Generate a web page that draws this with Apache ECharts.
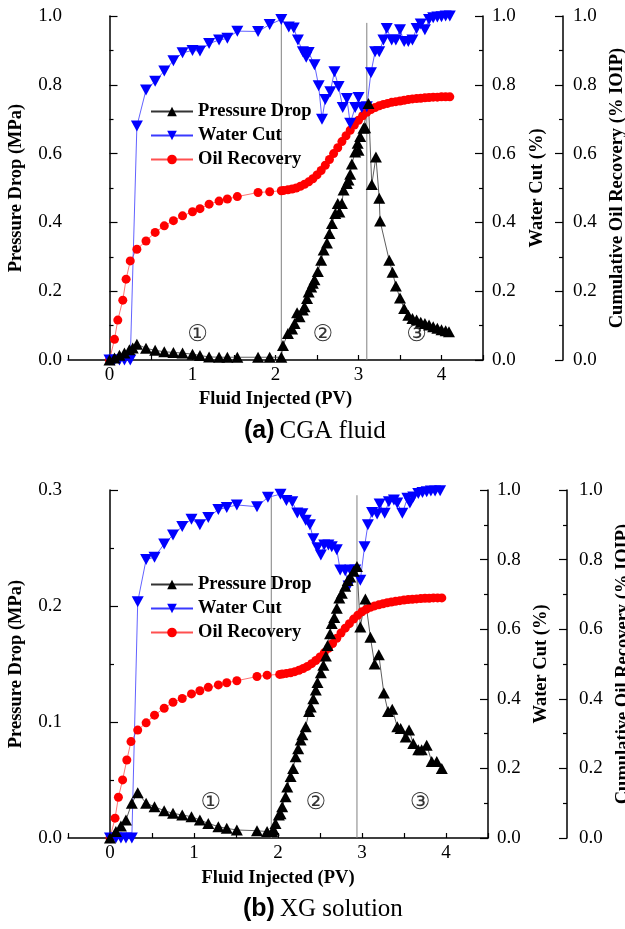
<!DOCTYPE html>
<html>
<head>
<meta charset="utf-8">
<title>Pressure drop, water cut and oil recovery</title>
<script src="https://cdn.jsdelivr.net/npm/echarts@6.0.0/dist/echarts.min.js"></script>
<style>
  html, body { margin: 0; padding: 0; background: #fff; }
  #chart { width: 625px; height: 929px; }
</style>
</head>
<body>
<div id="chart"></div>
<script>
// ---- data: [PV injected, value] ----
// (a) CGA fluid
const pressureA = [[0,0],[0.06,0.006],[0.12,0.014],[0.18,0.02],[0.24,0.03],[0.28,0.035],[0.33,0.046],[0.44,0.034],[0.55,0.028],[0.66,0.024],[0.77,0.022],[0.88,0.02],[1.0,0.017],[1.09,0.013],[1.2,0.009],[1.32,0.008],[1.42,0.008],[1.54,0.008],[1.79,0.008],[1.93,0.008],[2.07,0.008],[2.09,0.042],[2.15,0.077],[2.2,0.09],[2.23,0.106],[2.26,0.137],[2.29,0.126],[2.33,0.145],[2.35,0.155],[2.38,0.179],[2.4,0.198],[2.43,0.212],[2.45,0.223],[2.47,0.233],[2.51,0.257],[2.55,0.29],[2.58,0.32],[2.62,0.34],[2.65,0.368],[2.68,0.397],[2.72,0.426],[2.75,0.455],[2.77,0.43],[2.8,0.455],[2.82,0.494],[2.86,0.513],[2.88,0.523],[2.9,0.54],[2.92,0.57],[2.96,0.605],[2.99,0.63],[3.0,0.61],[3.02,0.65],[3.06,0.674],[3.08,0.675],[3.12,0.746],[3.16,0.51],[3.21,0.59],[3.25,0.47],[3.26,0.404],[3.37,0.29],[3.41,0.255],[3.45,0.215],[3.5,0.18],[3.55,0.15],[3.6,0.13],[3.65,0.121],[3.7,0.116],[3.75,0.11],[3.8,0.106],[3.85,0.102],[3.9,0.097],[3.95,0.092],[4.0,0.088],[4.05,0.085],[4.09,0.082]];
const waterA = [[0,0],[0.06,0],[0.12,0],[0.18,0],[0.25,0],[0.33,0.68],[0.44,0.785],[0.55,0.81],[0.66,0.84],[0.77,0.87],[0.88,0.893],[1.0,0.9],[1.09,0.898],[1.2,0.92],[1.32,0.93],[1.42,0.935],[1.54,0.956],[1.79,0.955],[1.93,0.975],[2.07,0.99],[2.16,0.968],[2.22,0.965],[2.27,0.93],[2.33,0.896],[2.37,0.88],[2.4,0.894],[2.47,0.858],[2.52,0.797],[2.56,0.7],[2.6,0.757],[2.66,0.78],[2.71,0.838],[2.76,0.795],[2.81,0.734],[2.86,0.76],[2.9,0.688],[2.96,0.734],[3.0,0.763],[3.04,0.734],[3.1,0.736],[3.15,0.835],[3.2,0.896],[3.25,0.896],[3.3,0.93],[3.34,0.964],[3.4,0.93],[3.45,0.93],[3.5,0.96],[3.55,0.926],[3.6,0.926],[3.65,0.93],[3.7,0.964],[3.75,0.977],[3.8,0.96],[3.85,0.99],[3.9,0.995],[3.95,0.997],[4.0,0.998],[4.05,1.0],[4.1,1.0]];
const oilA = [[0,0],[0.06,0.06],[0.1,0.116],[0.16,0.174],[0.2,0.235],[0.25,0.288],[0.33,0.322],[0.44,0.346],[0.55,0.371],[0.66,0.39],[0.77,0.405],[0.88,0.419],[1.0,0.431],[1.09,0.44],[1.2,0.453],[1.32,0.462],[1.42,0.468],[1.54,0.475],[1.79,0.487],[1.93,0.489],[2.07,0.492],[2.1,0.493],[2.15,0.495],[2.2,0.497],[2.25,0.5],[2.3,0.505],[2.35,0.511],[2.4,0.518],[2.45,0.527],[2.5,0.538],[2.55,0.551],[2.6,0.566],[2.65,0.583],[2.7,0.6],[2.75,0.617],[2.8,0.635],[2.85,0.652],[2.9,0.668],[2.95,0.683],[3.0,0.697],[3.05,0.71],[3.1,0.72],[3.15,0.728],[3.2,0.734],[3.25,0.739],[3.3,0.743],[3.35,0.746],[3.4,0.749],[3.45,0.751],[3.5,0.753],[3.55,0.755],[3.6,0.757],[3.65,0.759],[3.7,0.76],[3.75,0.761],[3.8,0.762],[3.85,0.763],[3.9,0.764],[3.95,0.764],[4.0,0.765],[4.05,0.765],[4.1,0.765]];
const phaseA = [2.07, 3.1];
const phaseTopA = 0.98;
const regionXA = [1.06, 2.57, 3.7];
const regionYA = 0.073;

// (b) XG solution
const pressureB = [[0,0],[0.07,0.0055],[0.13,0.0103],[0.19,0.0155],[0.26,0.03],[0.33,0.039],[0.43,0.03],[0.53,0.027],[0.645,0.0235],[0.75,0.0213],[0.86,0.0198],[0.97,0.0184],[1.07,0.0155],[1.17,0.0126],[1.29,0.0098],[1.39,0.0083],[1.51,0.0069],[1.75,0.0063],[1.87,0.0055],[1.93,0.0055],[1.95,0.0069],[1.97,0.0126],[2.01,0.0198],[2.03,0.021],[2.05,0.027],[2.09,0.0356],[2.11,0.044],[2.15,0.053],[2.18,0.06],[2.21,0.07],[2.24,0.077],[2.27,0.0845],[2.29,0.089],[2.33,0.096],[2.37,0.109],[2.39,0.113],[2.42,0.12],[2.45,0.1276],[2.47,0.134],[2.51,0.1425],[2.54,0.149],[2.57,0.157],[2.59,0.166],[2.62,0.176],[2.64,0.185],[2.67,0.19],[2.7,0.198],[2.73,0.207],[2.76,0.211],[2.8,0.217],[2.83,0.222],[2.86,0.225],[2.9,0.23],[2.94,0.234],[2.98,0.182],[3.04,0.206],[3.1,0.173],[3.15,0.15],[3.2,0.158],[3.26,0.125],[3.31,0.109],[3.36,0.111],[3.42,0.096],[3.46,0.0945],[3.52,0.087],[3.56,0.093],[3.61,0.0815],[3.67,0.076],[3.71,0.076],[3.77,0.08],[3.83,0.066],[3.89,0.066],[3.95,0.06]];
const waterB = [[0,0],[0.07,0],[0.13,0],[0.19,0],[0.26,0],[0.33,0.679],[0.43,0.8],[0.53,0.807],[0.645,0.845],[0.75,0.871],[0.86,0.895],[0.97,0.916],[1.07,0.9],[1.17,0.921],[1.29,0.944],[1.39,0.95],[1.51,0.957],[1.75,0.952],[1.88,0.979],[2.03,0.988],[2.1,0.97],[2.17,0.966],[2.23,0.934],[2.29,0.932],[2.33,0.913],[2.38,0.9],[2.42,0.86],[2.47,0.834],[2.51,0.813],[2.55,0.842],[2.6,0.842],[2.64,0.837],[2.7,0.828],[2.74,0.77],[2.8,0.768],[2.84,0.724],[2.86,0.77],[2.92,0.77],[2.98,0.741],[3.03,0.837],[3.07,0.9],[3.12,0.935],[3.18,0.931],[3.21,0.96],[3.27,0.933],[3.32,0.966],[3.38,0.971],[3.42,0.963],[3.48,0.933],[3.54,0.976],[3.57,0.963],[3.61,0.98],[3.67,0.99],[3.72,0.993],[3.77,0.995],[3.82,0.997],[3.87,0.997],[3.93,0.998]];
const oilB = [[0,0],[0.06,0.057],[0.1,0.117],[0.15,0.167],[0.2,0.224],[0.25,0.277],[0.33,0.31],[0.43,0.331],[0.53,0.353],[0.645,0.373],[0.75,0.39],[0.86,0.401],[0.97,0.414],[1.07,0.423],[1.17,0.433],[1.29,0.44],[1.39,0.446],[1.51,0.452],[1.75,0.464],[1.87,0.468],[2.02,0.47],[2.05,0.471],[2.1,0.473],[2.15,0.475],[2.2,0.478],[2.25,0.482],[2.3,0.487],[2.35,0.493],[2.4,0.501],[2.45,0.51],[2.5,0.52],[2.55,0.532],[2.6,0.545],[2.65,0.559],[2.7,0.574],[2.75,0.589],[2.8,0.603],[2.85,0.616],[2.9,0.629],[2.95,0.64],[3.0,0.65],[3.05,0.657],[3.1,0.663],[3.15,0.667],[3.2,0.67],[3.25,0.673],[3.3,0.676],[3.35,0.678],[3.4,0.68],[3.45,0.682],[3.5,0.684],[3.55,0.685],[3.6,0.686],[3.65,0.687],[3.7,0.688],[3.75,0.689],[3.8,0.689],[3.85,0.69],[3.9,0.69],[3.95,0.69]];
const phaseB = [1.92, 2.94];
const phaseTopB = 0.985;
const regionXB = [1.2, 2.45, 3.69];
const regionYB = 0.1;

const regionNames = ['①', '②', '③'];
const seriesNames = ['Pressure Drop', 'Water Cut', 'Oil Recovery'];

const serif = 'Liberation Serif, Times New Roman, serif';
const titleFont = { fontFamily: serif, fontWeight: 'bold', fontSize: 18.5, color: '#000' };
const labelFont = { fontFamily: serif, fontSize: 19, color: '#000' };
const invTri = 'path://M0,0L10,0L5,9Z';

function xAxisOpt(gi, gap) {
  return {
    type: 'value', gridIndex: gi, min: -0.5, max: 4.5, interval: 0.5,
    name: 'Fluid Injected (PV)', nameLocation: 'middle', nameGap: gap, nameTextStyle: titleFont,
    axisLine: { lineStyle: { color: '#000', width: 1.5 } },
    axisTick: { inside: true, length: 5, lineStyle: { color: '#000', width: 1.2 } },
    axisLabel: Object.assign({ margin: 6, formatter: v => Number.isInteger(v) ? String(v) : '' }, labelFont),
    splitLine: { show: false }
  };
}

function yAxisOpt(gi, pos, offset, max, interval, name, gap, margin) {
  return {
    type: 'value', gridIndex: gi, position: pos, offset: offset,
    min: 0, max: max, interval: interval,
    name: name, nameLocation: 'middle', nameRotate: 90, nameGap: gap, nameTextStyle: titleFont,
    axisLine: { show: true, lineStyle: { color: '#000', width: 1.5 } },
    axisTick: { show: true, inside: true, length: 8, lineStyle: { color: '#000', width: 1.2 } },
    minorTick: { show: true, splitNumber: 2, length: 4, lineStyle: { color: '#000', width: 1.2 } },
    axisLabel: Object.assign({ margin: margin, formatter: v => v.toFixed(1) }, labelFont),
    splitLine: { show: false }
  };
}

function dataSeries(name, data, xi, yi) {
  const style = {
    'Pressure Drop': { color: '#000', line: '#333', symbol: 'triangle', size: [12, 11] },
    'Water Cut': { color: '#0000ff', line: '#3a3aff', symbol: invTri, size: [12, 11] },
    'Oil Recovery': { color: '#ff0000', line: '#ff5050', symbol: 'circle', size: 9 }
  }[name];
  return {
    name: name, type: 'line', xAxisIndex: xi, yAxisIndex: yi, data: data,
    symbol: style.symbol, symbolSize: style.size, showSymbol: true,
    itemStyle: { color: style.color },
    lineStyle: { color: style.line, width: 0.8 },
    emphasis: { disabled: true }, animation: false
  };
}

function phaseSeries(x, top, xi, yi) {
  return {
    type: 'line', xAxisIndex: xi, yAxisIndex: yi, data: [[x, 0], [x, top]],
    symbol: 'none', silent: true, animation: false,
    lineStyle: { color: '#808080', width: 1 }
  };
}

function regionSeries(xs, y, xi, yi) {
  return {
    type: 'scatter', xAxisIndex: xi, yAxisIndex: yi, silent: true, animation: false,
    symbolSize: 1, itemStyle: { color: 'rgba(0,0,0,0)' },
    data: xs.map((x, i) => ({ value: [x, y], name: regionNames[i] })),
    label: { show: true, position: 'inside', formatter: '{b}', fontFamily: 'DejaVu Sans', fontSize: 23, color: '#000' }
  };
}

function legendOpt(top) {
  return {
    data: seriesNames, orient: 'vertical', left: 150, top: top, padding: 0,
    itemWidth: 42, itemHeight: 12, itemGap: 5, selectedMode: false,
    textStyle: titleFont
  };
}

const richTitle = {
  a: { fontFamily: 'Liberation Sans, Arial, sans-serif', fontWeight: 'bold', fontSize: 25, color: '#000' },
  b: { fontFamily: serif, fontWeight: 'normal', fontSize: 25, color: '#000' }
};

const chart = echarts.init(document.getElementById('chart'));
chart.setOption({
  backgroundColor: '#fff',
  animation: false,
  title: [
    { text: '{a|(a)} {b|CGA fluid}', left: 244, top: 419, padding: 0, textStyle: { rich: richTitle } },
    { text: '{a|(b)} {b|XG solution}', left: 243, top: 897, padding: 0, textStyle: { rich: richTitle } }
  ],
  legend: [legendOpt(102), legendOpt(575)],
  grid: [
    { left: 68, top: 16, width: 415, height: 344, outerBoundsMode: 'none' },
    { left: 68, top: 490, width: 420, height: 348, outerBoundsMode: 'none' }
  ],
  xAxis: [xAxisOpt(0, 30), xAxisOpt(1, 31)],
  yAxis: [
    yAxisOpt(0, 'left', 0, 1, 0.2, 'Pressure Drop (MPa)', 42, 6),
    yAxisOpt(0, 'right', 0, 1, 0.2, 'Water Cut (%)', 45, 9),
    yAxisOpt(0, 'right', 80, 1, 0.2, 'Cumulative Oil Recovery (% IOIP)', 44, 10),
    yAxisOpt(1, 'left', 0, 0.3, 0.1, 'Pressure Drop (MPa)', 42, 6),
    yAxisOpt(1, 'right', 0, 1, 0.2, 'Water Cut (%)', 40, 9),
    yAxisOpt(1, 'right', 79, 1, 0.2, 'Cumulative Oil Recovery (% IOIP)', 45, 12)
  ],
  series: [
    phaseSeries(phaseA[0], phaseTopA, 0, 1),
    phaseSeries(phaseA[1], phaseTopA, 0, 1),
    dataSeries('Oil Recovery', oilA, 0, 2),
    dataSeries('Water Cut', waterA, 0, 1),
    dataSeries('Pressure Drop', pressureA, 0, 0),
    regionSeries(regionXA, regionYA, 0, 1),
    phaseSeries(phaseB[0], phaseTopB, 1, 4),
    phaseSeries(phaseB[1], phaseTopB, 1, 4),
    dataSeries('Oil Recovery', oilB, 1, 5),
    dataSeries('Water Cut', waterB, 1, 4),
    dataSeries('Pressure Drop', pressureB, 1, 3),
    regionSeries(regionXB, regionYB, 1, 4)
  ]
});
</script>
</body>
</html>
